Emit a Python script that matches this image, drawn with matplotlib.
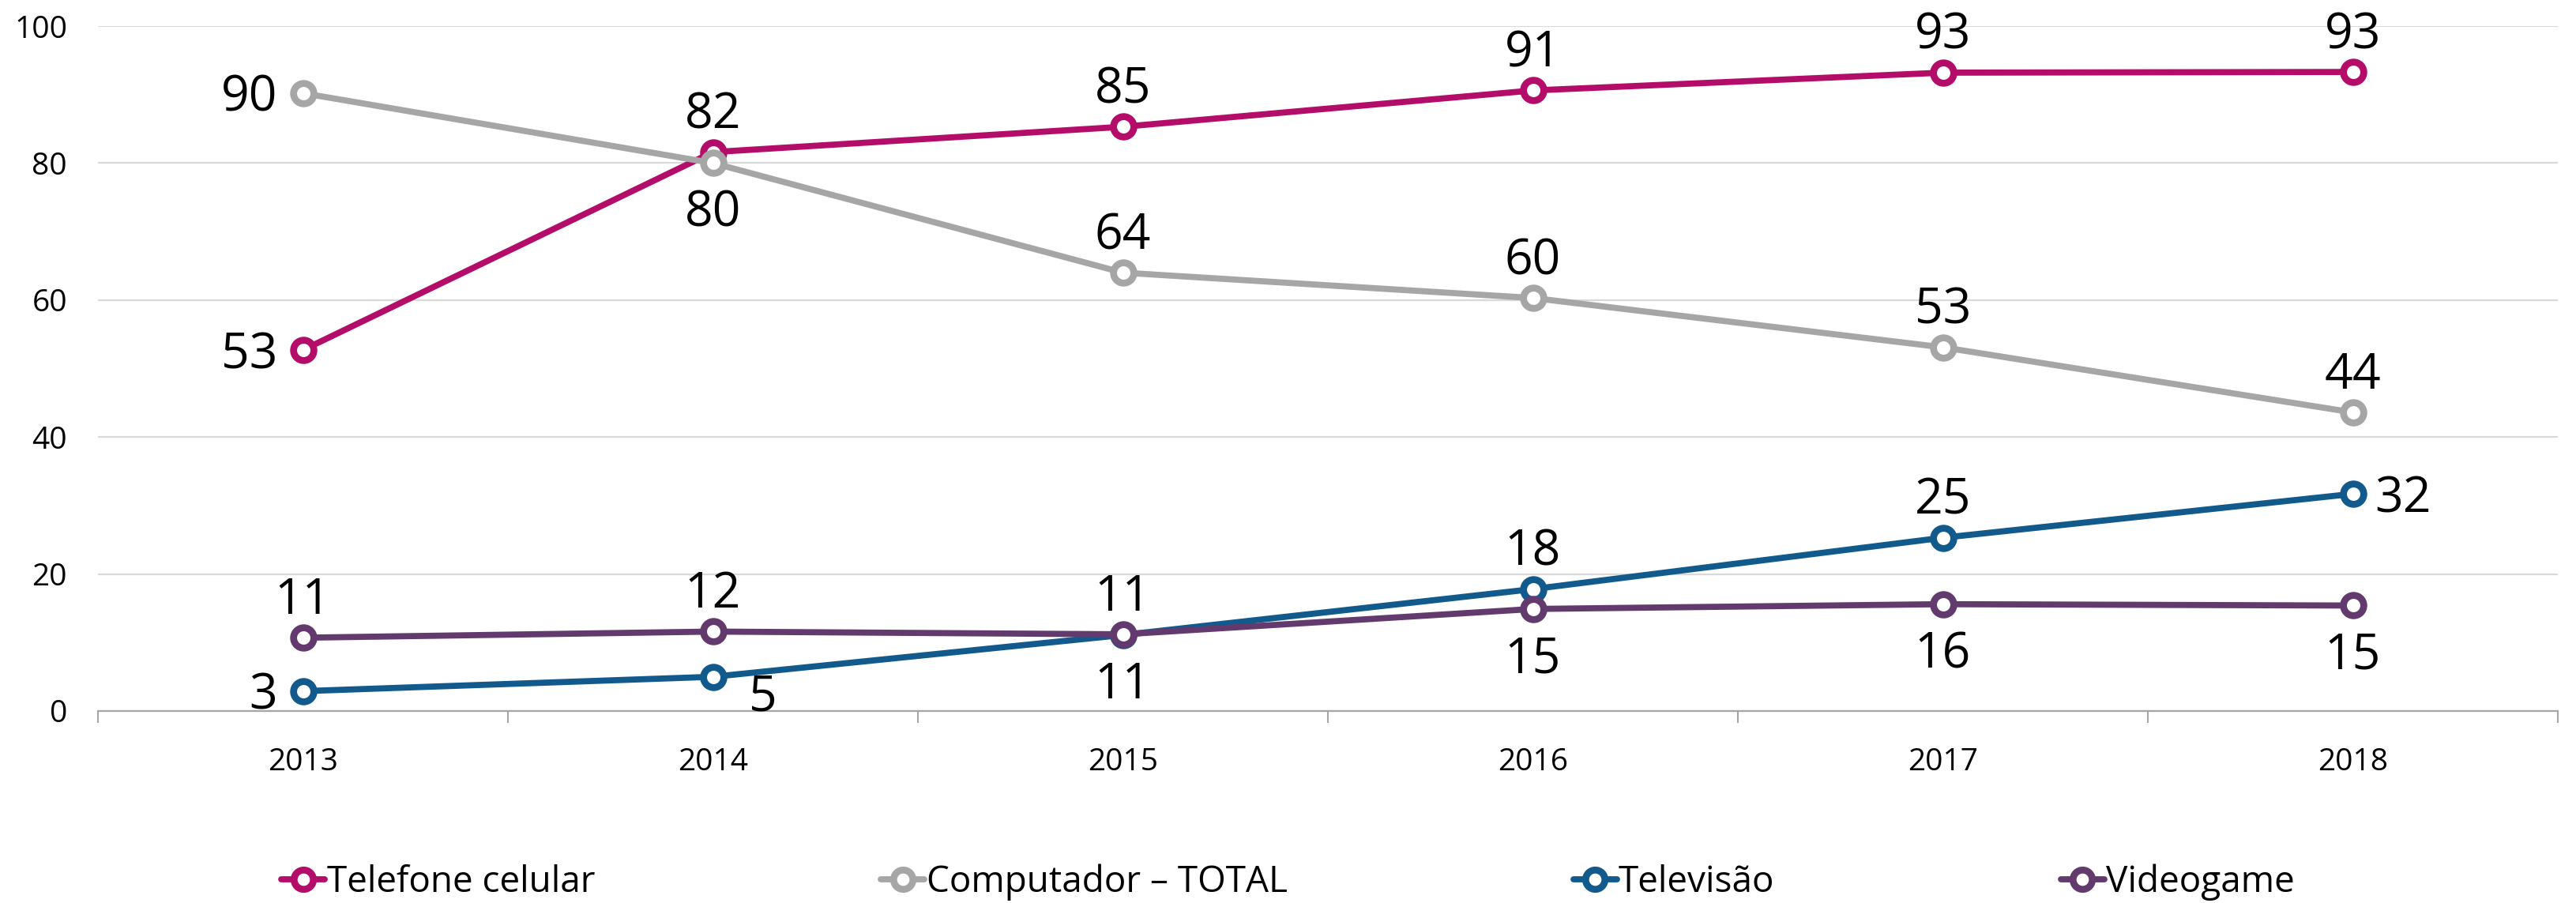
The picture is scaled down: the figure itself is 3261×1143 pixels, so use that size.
import matplotlib
matplotlib.use("Agg")
import matplotlib.pyplot as plt
import numpy as np

plt.rcParams['font.family'] = ['Open Sans', 'DejaVu Sans']

years = ["2013", "2014", "2015", "2016", "2017", "2018"]
series_names = ["Telefone celular", "Computador – TOTAL", "Televisão", "Videogame"]
telefone = [52.7, 81.6, 85.3, 90.6, 93.2, 93.3]
computador = [90.2, 80.0, 64.0, 60.3, 53.1, 43.6]
televisao = [2.9, 5.0, 11.1, 17.8, 25.3, 31.7]
videogame = [10.7, 11.6, 11.2, 14.9, 15.6, 15.4]
yticks = [0, 20, 40, 60, 80, 100]

colors = ["#B40C69", "#A6A6A6", "#12598C", "#633A6E"]
# label placement per point
label_pos = [
    ["left", "above", "above", "above", "above", "above"],
    ["left", "below", "above", "above", "above", "above"],
    ["left", "rightbelow", "below", "above", "above", "right"],
    ["above", "above", "above", "below", "below", "below"],
]

W, H = 3261, 1143
fig = plt.figure(figsize=(W / 100, H / 100), dpi=100)
ax = fig.add_axes([124 / W, 1 - 900 / H, (3238 - 124) / W, (900 - 33) / H])

x = np.arange(len(years)) + 0.5
px = 72 / 100  # points per pixel

lines = []
for name, vals, c, poss in zip(series_names, [telefone, computador, televisao, videogame], colors, label_pos):
    ln, = ax.plot(x, vals, color=c, lw=5.6, marker='o', markersize=18.5,
                  markerfacecolor='white', markeredgecolor=c, markeredgewidth=6.3,
                  solid_capstyle='round', label=name, clip_on=False)
    lines.append(ln)
    for xi, v, p in zip(x, vals, poss):
        txt = f"{v:.0f}"
        if p == "above":
            kw = dict(xytext=(0, 30 * px), ha='center', va='baseline')
        elif p == "below":
            kw = dict(xytext=(0, -33 * px), ha='center', va='top')
        elif p == "left":
            kw = dict(xytext=(-32 * px, -23 * px), ha='right', va='baseline')
        elif p == "right":
            kw = dict(xytext=(28 * px, -23 * px), ha='left', va='baseline')
        else:  # rightbelow
            kw = dict(xytext=(46 * px, -43 * px), ha='left', va='baseline')
        ax.annotate(txt, (xi, v), textcoords='offset points', fontsize=45,
                    color='black', **kw)

ax.set_xlim(0, len(years))
ax.set_ylim(0, 100)
ax.set_yticks(yticks)
ax.set_yticklabels([str(t) for t in yticks])
ax.set_xticks(x)
ax.set_xticklabels(years)
ax.set_xticks(np.arange(len(years) + 1), minor=True)
ax.tick_params(axis='x', which='major', length=0, pad=33, labelsize=28)
ax.tick_params(axis='x', which='minor', length=11, width=1.5, color='#A6A6A6', direction='out')
ax.tick_params(axis='y', length=0, pad=28, labelsize=28)
ax.grid(axis='y', color='#D9D9D9', lw=1.6)
ax.set_axisbelow(True)
for s in ['top', 'right', 'left']:
    ax.spines[s].set_visible(False)
ax.spines['bottom'].set_color('#A6A6A6')
ax.spines['bottom'].set_linewidth(1.6)
ax.spines['bottom'].set_zorder(1)

fig.legend(handles=lines, loc='center', bbox_to_anchor=(0.5, 1 - 1117 / H), ncol=4,
           frameon=False, fontsize=33, handlelength=1.2, handletextpad=0.05,
           columnspacing=7.9, markerscale=0.95)

fig.savefig("out.png", dpi=100)
